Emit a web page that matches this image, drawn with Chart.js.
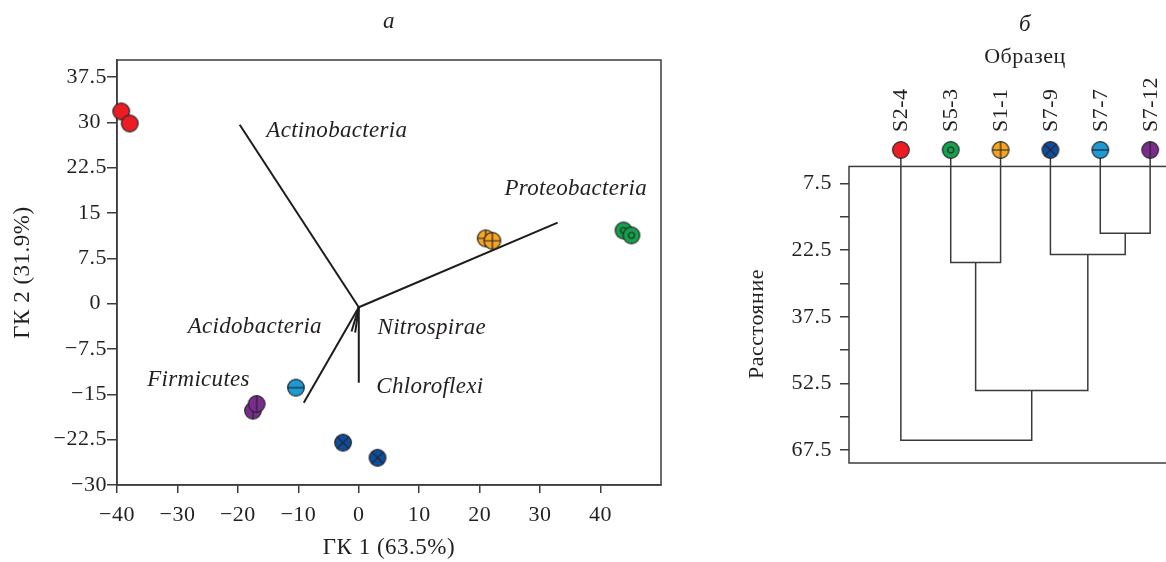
<!DOCTYPE html>
<html>
<head>
<meta charset="utf-8">
<script src="https://cdn.jsdelivr.net/npm/chart.js@4.4.1/dist/chart.umd.min.js"></script>
<style>
  html, body { margin: 0; padding: 0; background: #fff; width: 1166px; height: 562px; overflow: hidden; }
  #pca { position: absolute; left: 0; top: 0; }
  #tree { position: absolute; left: 700px; top: 0; }
</style>
</head>
<body>
<canvas id="pca" width="700" height="562" style="width:700px;height:562px"></canvas>
<canvas id="tree" width="540" height="562" style="width:540px;height:562px"></canvas>
<script>
var SERIF = "'Liberation Serif', 'Times New Roman', serif";
var INK = '#231f20';
var AXIS = '#3c3c3c';

// samples
var sampleNames = ['S2-4', 'S5-3', 'S1-1', 'S7-9', 'S7-7', 'S7-12'];
var sampleColors = ['#ec1c24', '#13a24b', '#f7a520', '#0d4c9e', '#1b9ad6', '#7a2c8e'];
var sampleSymbols = ['none', 'ring', 'plus', 'cross', 'hline', 'vline'];

// PCA scores (replicates of each sample)
var gk1 = [[-39.3, -37.9], [43.8, 45.1], [21.0, 22.1], [-2.6, 3.1], [-10.4], [-17.5, -16.9]];
var gk2 = [[31.8, 29.8], [12.1, 11.3], [10.8, 10.4], [-23.0, -25.5], [-13.9], [-17.7, -16.6]];

// taxa loadings
var taxa = ['Actinobacteria', 'Proteobacteria', 'Firmicutes', 'Chloroflexi', 'Acidobacteria', 'Nitrospirae'];
var taxaX = [-19.7, 32.9, -9.1, 0.0, -1.2, -0.6];
var taxaY = [29.6, 13.4, -16.4, -13.1, -4.6, -4.8];
var taxaLabelX = [-15.3, 24.1, -35.0, 2.9, -28.3, 3.1];
var taxaLabelY = [28.6, 19.0, -12.6, -13.7, -3.8, -4.0];
var vecOrigin = [0, -0.6];

var gk1Ticks = [-40, -30, -20, -10, 0, 10, 20, 30, 40];
var gk2Ticks = [-30, -22.5, -15, -7.5, 0, 7.5, 15, 22.5, 30, 37.5];

// dendrogram: leaves are 0..5, each merge makes node 6, 7, ...
var mergeLeft = [4, 3, 1, 8, 0];
var mergeRight = [5, 6, 2, 7, 9];
var mergeHeight = [18.7, 23.5, 25.3, 54.1, 65.3];
var distTicks = [7.5, 15, 22.5, 30, 37.5, 45, 52.5, 60, 67.5];
var distFrameTop = 3.7;

function makeMarker(color, symbol) {
    var c = document.createElement('canvas');
    c.width = 20;
    c.height = 20;
    var g = c.getContext('2d');
    var r = 8.3;
    g.beginPath();
    g.arc(10, 10, r, 0, Math.PI * 2);
    g.fillStyle = color;
    g.fill();
    g.lineWidth = 1.2;
    g.strokeStyle = '#262626';
    g.stroke();
    g.beginPath();
    if (symbol === 'ring') {
        g.arc(10, 10, 3, 0, Math.PI * 2);
    }
    if (symbol === 'plus' || symbol === 'hline') {
        g.moveTo(10 - r, 10);
        g.lineTo(10 + r, 10);
    }
    if (symbol === 'plus' || symbol === 'vline') {
        g.moveTo(10, 10 - r);
        g.lineTo(10, 10 + r);
    }
    if (symbol === 'cross') {
        var d = r * 0.7071;
        g.moveTo(10 - d, 10 - d);
        g.lineTo(10 + d, 10 + d);
        g.moveTo(10 + d, 10 - d);
        g.lineTo(10 - d, 10 + d);
    }
    g.stroke();
    return c;
}

var markers = sampleNames.map(function(n, i) { return makeMarker(sampleColors[i], sampleSymbols[i]); });

function signed(v) {
    return (v < 0 ? '\u2212' : '') + Math.abs(v).toString();
}

var spacing = {
    id: 'spacing',
    beforeUpdate: function(chart) { chart.ctx.letterSpacing = '0.5px'; },
    beforeDraw: function(chart) { chart.ctx.letterSpacing = '0.5px'; }
};

var frame = {
    id: 'frame',
    beforeDatasetsDraw: function(chart) {
        var a = chart.chartArea, ctx = chart.ctx;
        var top = chart.config.options.frameTop !== undefined ? chart.scales.y.getPixelForValue(chart.config.options.frameTop) : a.top;
        ctx.save();
        ctx.strokeStyle = AXIS;
        ctx.lineWidth = 1.5;
        ctx.strokeRect(a.left, top, a.right - a.left, a.bottom - top);
        ctx.restore();
    }
};

var taxaLabels = {
    id: 'taxaLabels',
    afterDatasetsDraw: function(chart) {
        var ctx = chart.ctx, sx = chart.scales.x, sy = chart.scales.y;
        ctx.save();
        ctx.font = 'italic 23px ' + SERIF;
        ctx.letterSpacing = '0.3px';
        ctx.fillStyle = INK;
        ctx.textAlign = 'left';
        ctx.textBaseline = 'middle';
        taxa.forEach(function(name, i) {
            ctx.fillText(name, sx.getPixelForValue(taxaLabelX[i]), sy.getPixelForValue(taxaLabelY[i]));
        });
        ctx.restore();
    }
};

var distTitle = {
    id: 'distTitle',
    afterDraw: function(chart) {
        var ctx = chart.ctx;
        ctx.save();
        ctx.font = '22px ' + SERIF;
        ctx.letterSpacing = '0.5px';
        ctx.fillStyle = INK;
        ctx.textAlign = 'center';
        ctx.textBaseline = 'middle';
        ctx.translate(57, 324);
        ctx.rotate(-Math.PI / 2);
        ctx.fillText('Расстояние', 0, 0);
        ctx.restore();
    }
};

// ---- a: PCA biplot ----
var pcaDatasets = [];
sampleNames.forEach(function(name, i) {
    pcaDatasets.push({
        label: name,
        data: gk1[i].map(function(x, j) { return {x: x, y: gk2[i][j]}; }),
        pointStyle: markers[i],
        pointRadius: 8,
        pointHoverRadius: 8,
        clip: false
    });
});
taxa.forEach(function(name, i) {
    pcaDatasets.push({
        label: name,
        data: [{x: vecOrigin[0], y: vecOrigin[1]}, {x: taxaX[i], y: taxaY[i]}],
        showLine: true,
        borderColor: '#1c1c1c',
        borderWidth: 2,
        pointRadius: 0
    });
});

new Chart(document.getElementById('pca'), {
    type: 'scatter',
    data: {datasets: pcaDatasets},
    options: {
        responsive: false,
        animation: false,
        events: [],
        layout: {padding: {left: 0, right: 39, top: 0, bottom: 0}},
        plugins: {
            legend: {display: false},
            tooltip: {enabled: false},
            title: {
                display: true,
                fullSize: false,
                text: 'а',
                color: INK,
                font: {family: SERIF, size: 23, style: 'italic', weight: 'normal'},
                padding: {top: 8, bottom: 24.4}
            }
        },
        scales: {
            x: {
                type: 'linear',
                min: -40,
                max: 50,
                afterBuildTicks: function(s) { s.ticks = gk1Ticks.map(function(v) { return {value: v}; }); },
                afterFit: function(s) { s.height = 77; },
                grid: {display: true, drawOnChartArea: false, drawTicks: true, tickLength: 8, color: AXIS, lineWidth: 1.5},
                border: {display: true, color: AXIS, width: 1.5},
                ticks: {
                    font: {family: SERIF, size: 22},
                    color: INK,
                    padding: 9,
                    maxRotation: 0,
                    callback: function(v) { return signed(v); }
                },
                title: {display: true, text: 'ГК 1 (63.5%)', color: INK, font: {family: SERIF, size: 23}, padding: {top: 0, bottom: 0}}
            },
            y: {
                type: 'linear',
                min: -30,
                max: 40.3,
                afterBuildTicks: function(s) { s.ticks = gk2Ticks.map(function(v) { return {value: v}; }); },
                afterFit: function(s) { s.width = 117; },
                grid: {display: true, drawOnChartArea: false, drawTicks: true, tickLength: 10, color: AXIS, lineWidth: 1.5},
                border: {display: true, color: AXIS, width: 1.5},
                ticks: {
                    font: {family: SERIF, size: 22},
                    color: INK,
                    padding: 0,
                    callback: function(v) { return signed(v) + (v >= 0 && v % 1 === 0 ? ' ' : ''); }
                },
                title: {display: true, text: 'ГК 2 (31.9%)', color: INK, font: {family: SERIF, size: 23}, padding: {top: 9, bottom: 0}}
            }
        }
    },
    plugins: [spacing, frame, taxaLabels]
});

// ---- б: dendrogram ----
var treeDatasets = [{
    label: 'leaves',
    data: sampleNames.map(function(n, i) { return {x: i, y: 0}; }),
    pointStyle: markers,
    pointRadius: 8,
    pointHoverRadius: 8,
    clip: false
}];
var nodeX = sampleNames.map(function(n, i) { return i; });
var nodeH = sampleNames.map(function() { return 0; });
mergeHeight.forEach(function(h, k) {
    var a = mergeLeft[k], b = mergeRight[k];
    treeDatasets.push({
        label: 'merge ' + k,
        data: [{x: nodeX[a], y: nodeH[a]}, {x: nodeX[a], y: h}, {x: nodeX[b], y: h}, {x: nodeX[b], y: nodeH[b]}],
        showLine: true,
        borderColor: '#3a3a3a',
        borderWidth: 1.5,
        pointRadius: 0,
        clip: false
    });
    nodeX.push((nodeX[a] + nodeX[b]) / 2);
    nodeH.push(h);
});

new Chart(document.getElementById('tree'), {
    type: 'scatter',
    data: {datasets: treeDatasets},
    options: {
        responsive: false,
        animation: false,
        events: [],
        frameTop: distFrameTop,
        layout: {padding: {left: 0, right: 39, top: 0, bottom: 99}},
        plugins: {
            legend: {display: false},
            tooltip: {enabled: false},
            title: {
                display: true,
                fullSize: false,
                text: 'б',
                color: INK,
                font: {family: SERIF, size: 23, style: 'italic', weight: 'normal'},
                padding: {top: 11, bottom: 4}
            }
        },
        scales: {
            x: {
                type: 'linear',
                position: 'top',
                min: -1.04,
                max: 6.02,
                afterBuildTicks: function(s) { s.ticks = sampleNames.map(function(n, i) { return {value: i}; }); },
                afterFit: function(s) { s.height = 107.4; },
                grid: {display: false},
                border: {display: false},
                ticks: {
                    font: {family: SERIF, size: 22},
                    color: INK,
                    padding: 10,
                    labelOffset: 27,
                    minRotation: 90,
                    maxRotation: 90,
                    autoSkip: false,
                    callback: function(v) { return sampleNames[v]; }
                },
                title: {display: true, text: 'Образец', color: INK, font: {family: SERIF, size: 22}, padding: {top: 1, bottom: 0}}
            },
            y: {
                type: 'linear',
                reverse: true,
                min: 0,
                max: 70.4,
                afterBuildTicks: function(s) { s.ticks = distTicks.map(function(v) { return {value: v}; }); },
                afterFit: function(s) { s.width = 149; },
                grid: {display: true, drawOnChartArea: false, drawTicks: true, tickLength: 9, color: AXIS, lineWidth: 1.5},
                border: {display: false},
                ticks: {
                    font: {family: SERIF, size: 22},
                    color: INK,
                    padding: 8,
                    callback: function(v) { return (v - 7.5) % 15 === 0 ? v.toString() : ''; }
                }
            }
        }
    },
    plugins: [spacing, frame, distTitle]
});
</script>
</body>
</html>
